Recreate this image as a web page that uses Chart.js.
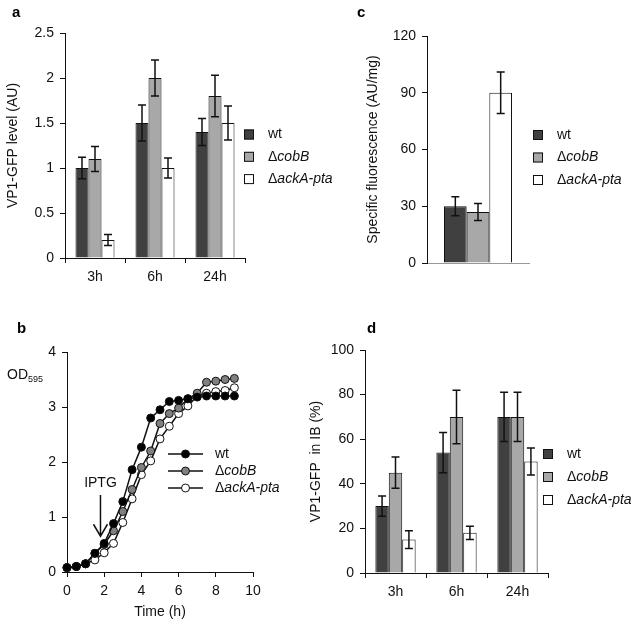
<!DOCTYPE html>
<html>
<head>
<meta charset="utf-8">
<script src="https://cdn.jsdelivr.net/npm/chart.js@4.4.1/dist/chart.umd.min.js"></script>
<style>
body { margin: 0; background: #fff; }
#wrap { position: relative; width: 638px; height: 623px; }
canvas { position: absolute; left: 0; top: 0; pointer-events: none; }
</style>
</head>
<body>
<div id="wrap">
<canvas id="chartA" width="638" height="623"></canvas>
<canvas id="chartB" width="638" height="623"></canvas>
<canvas id="chartC" width="638" height="623"></canvas>
<canvas id="chartD" width="638" height="623"></canvas>
</div>
<script>
// strains + colours
const strains = ['wt', 'ΔcobB', 'ΔackA-pta'];
const strainColors = ['#404040', '#a8a8a8', '#ffffff'];
const lineColors = ['#000000', '#808080', '#ffffff'];
const timeLabels = ['3h', '6h', '24h'];

// a - VP1-GFP level (AU)
const gfpWt = [1.0, 1.5, 1.4];
const gfpWtErr = [0.12, 0.2, 0.15];
const gfpCobB = [1.1, 2.0, 1.8];
const gfpCobBErr = [0.14, 0.2, 0.23];
const gfpAck = [0.2, 1.0, 1.5];
const gfpAckErr = [0.06, 0.11, 0.19];

// b - growth curves OD595
const hours = [0, 0.5, 1, 1.5, 2, 2.5, 3, 3.5, 4, 4.5, 5, 5.5, 6, 6.5, 7, 7.5, 8, 8.5, 9];
const odWt = [0.08, 0.1, 0.15, 0.34, 0.52, 0.88, 1.28, 1.86, 2.27, 2.8, 2.95, 3.1, 3.12, 3.15, 3.18, 3.2, 3.2, 3.2, 3.2];
const odCobB = [0.08, 0.1, 0.15, 0.34, 0.5, 0.75, 1.1, 1.5, 1.9, 2.2, 2.7, 2.88, 2.98, 3.15, 3.25, 3.45, 3.47, 3.5, 3.52];
const odAck = [0.08, 0.1, 0.15, 0.22, 0.35, 0.52, 0.9, 1.33, 1.77, 2.02, 2.42, 2.65, 2.88, 3.02, 3.2, 3.25, 3.28, 3.3, 3.35];
const iptgTime = 1.8;

// c - specific fluorescence (AU/mg)
const sfValues = [30, 27, 90];
const sfErr = [5, 4.5, 11];

// d - VP1-GFP in IB (%)
const ibWt = [30, 54, 70];
const ibWtErr = [4.5, 9, 11];
const ibCobB = [45, 70, 70];
const ibCobBErr = [7, 12, 11];
const ibAck = [15, 18, 50];
const ibAckErr = [4, 3, 6];

const FAMILY = "'Liberation Sans', Arial, sans-serif";
const font14 = { family: FAMILY, size: 14 };
const INK = '#111';
const plainNum = v => String(+v.toFixed(2));

const errorBars = {
    id: 'errorBars',
    afterDatasetsDraw(chart) {
        const ctx = chart.ctx;
        const y = chart.scales.y;
        chart.data.datasets.forEach((ds, i) => {
            if (!ds.errors) return;
            chart.getDatasetMeta(i).data.forEach((bar, j) => {
                const v = ds.data[j], e = ds.errors[j];
                const top = y.getPixelForValue(v + e);
                const bot = y.getPixelForValue(v - e);
                ctx.save();
                ctx.strokeStyle = INK;
                ctx.lineWidth = 1.5;
                ctx.beginPath();
                ctx.moveTo(bar.x, top); ctx.lineTo(bar.x, bot);
                ctx.moveTo(bar.x - 4, top); ctx.lineTo(bar.x + 4, top);
                ctx.moveTo(bar.x - 4, bot); ctx.lineTo(bar.x + 4, bot);
                ctx.stroke();
                ctx.restore();
            });
        });
    }
};

function drawName(ctx, text, x, y) {
    ctx.fillStyle = INK;
    ctx.textAlign = 'left';
    ctx.textBaseline = 'middle';
    if (text[0] === 'Δ') {
        ctx.font = '14px ' + FAMILY;
        ctx.fillText('Δ', x, y);
        x += ctx.measureText('Δ').width;
        ctx.font = 'italic 14px ' + FAMILY;
        ctx.fillText(text.slice(1), x, y);
    } else {
        ctx.font = '14px ' + FAMILY;
        ctx.fillText(text, x, y);
    }
}

// panel letter + legend (+ extra drawing)
function decor(letter, lx, ly, leg, extra) {
    return {
        id: 'decor',
        afterDraw(chart) {
            const ctx = chart.ctx;
            ctx.save();
            ctx.fillStyle = '#000';
            ctx.font = 'bold 15px ' + FAMILY;
            ctx.textBaseline = 'alphabetic';
            ctx.fillText(letter, lx, ly);
            strains.forEach((name, i) => {
                const yy = leg.y + i * leg.gap;
                if (leg.kind === 'box') {
                    ctx.fillStyle = strainColors[i];
                    ctx.fillRect(leg.x, yy - 5, 10, 10);
                    ctx.strokeStyle = INK;
                    ctx.lineWidth = 1;
                    ctx.strokeRect(leg.x + 0.5, yy - 4.5, 9, 9);
                    drawName(ctx, name, leg.x + 24, yy);
                } else {
                    ctx.strokeStyle = INK;
                    ctx.lineWidth = 1.5;
                    ctx.beginPath();
                    ctx.moveTo(leg.x, yy); ctx.lineTo(leg.x + 35, yy);
                    ctx.stroke();
                    ctx.beginPath();
                    ctx.arc(leg.x + 17.5, yy, 4, 0, Math.PI * 2);
                    ctx.fillStyle = lineColors[i];
                    ctx.fill();
                    ctx.lineWidth = 1;
                    ctx.stroke();
                    drawName(ctx, name, leg.x + 47, yy);
                }
            });
            if (extra) extra(chart, ctx);
            ctx.restore();
        }
    };
}

function barConfig(box, labels, series, errs, yAxis, plugin) {
    return {
        type: 'bar',
        data: {
            labels: labels,
            datasets: series.map((vals, i) => ({
                label: strains[i],
                data: vals,
                errors: errs[i],
                backgroundColor: strainColors[i],
                borderColor: INK,
                borderWidth: 1,
                categoryPercentage: box.cat,
                barPercentage: 1
            }))
        },
        options: {
            responsive: false,
            animation: false,
            devicePixelRatio: 1,
            layout: { padding: { left: box.l - box.yw, top: box.t, right: 638 - box.r, bottom: 623 - box.b - box.xh } },
            plugins: { legend: { display: false }, tooltip: { enabled: false } },
            scales: {
                x: {
                    afterFit: s => { s.height = box.xh; },
                    grid: { display: box.xticks, drawOnChartArea: false, tickLength: 5, color: INK, offset: true },
                    border: { color: box.xborder, width: 1 },
                    ticks: { display: box.xticks, color: INK, font: font14, padding: 6 }
                },
                y: {
                    min: 0,
                    max: yAxis.max,
                    afterFit: s => { s.width = box.yw; },
                    grid: { drawOnChartArea: false, tickLength: 5, color: INK },
                    border: { color: INK, width: 1 },
                    ticks: { stepSize: yAxis.step, color: INK, font: font14, padding: 6, callback: plainNum },
                    title: { display: true, text: yAxis.title, color: INK, font: font14, padding: { top: yAxis.tpad, bottom: 0 } }
                }
            }
        },
        plugins: [errorBars, plugin]
    };
}

// a
new Chart(document.getElementById('chartA'), barConfig(
    { l: 65, t: 33, r: 245, b: 258, yw: 60, xh: 45, cat: 0.65, xticks: true, xborder: INK },
    timeLabels,
    [gfpWt, gfpCobB, gfpAck],
    [gfpWtErr, gfpCobBErr, gfpAckErr],
    { max: 2.5, step: 0.5, title: 'VP1-GFP level (AU)', tpad: 0 },
    decor('a', 12, 17, { kind: 'box', x: 244, y: 134.5, gap: 22.3 })
));

// c
new Chart(document.getElementById('chartC'), barConfig(
    { l: 427, t: 36, r: 529, b: 263, yw: 70, xh: 45, cat: 0.667, xticks: false, xborder: '#999' },
    [''],
    sfValues.map(v => [v]),
    sfErr.map(e => [e]),
    { max: 120, step: 30, title: 'Specific fluorescence (AU/mg)', tpad: 7.6 },
    decor('c', 357, 17, { kind: 'box', x: 533, y: 135, gap: 22.5 })
));

// d
new Chart(document.getElementById('chartD'), barConfig(
    { l: 365, t: 350, r: 548, b: 573, yw: 60, xh: 45, cat: 0.66, xticks: true, xborder: INK },
    timeLabels,
    [ibWt, ibCobB, ibAck],
    [ibWtErr, ibCobBErr, ibAckErr],
    { max: 100, step: 20, title: 'VP1-GFP  in IB (%)', tpad: 2.6 },
    decor('d', 367, 333, { kind: 'box', x: 543, y: 454, gap: 23 })
));

// b
const bBox = { l: 67, t: 352, r: 253, b: 572, yw: 60, xh: 50 };
const odSeries = [odWt, odCobB, odAck];
new Chart(document.getElementById('chartB'), {
    type: 'line',
    data: {
        datasets: odSeries.map((vals, i) => ({
            label: strains[i],
            data: hours.map((h, k) => ({ x: h, y: vals[k] })),
            borderColor: INK,
            borderWidth: 1.5,
            pointRadius: 4,
            pointBorderWidth: 1,
            pointBorderColor: INK,
            pointBackgroundColor: lineColors[i],
            clip: false,
            tension: 0
        }))
    },
    options: {
        responsive: false,
        animation: false,
        devicePixelRatio: 1,
        layout: { padding: { left: bBox.l - bBox.yw, top: bBox.t, right: 638 - bBox.r, bottom: 623 - bBox.b - bBox.xh } },
        plugins: { legend: { display: false }, tooltip: { enabled: false } },
        scales: {
            x: {
                type: 'linear',
                min: 0,
                max: 10,
                afterFit: s => { s.height = bBox.xh; },
                grid: { drawOnChartArea: false, tickLength: 5, color: INK },
                border: { color: INK, width: 1 },
                ticks: { stepSize: 2, color: INK, font: font14, padding: 6 },
                title: { display: true, text: 'Time (h)', color: INK, font: font14, padding: { top: 0, bottom: 1.6 } }
            },
            y: {
                min: 0,
                max: 4,
                afterFit: s => { s.width = bBox.yw; },
                grid: { drawOnChartArea: false, tickLength: 5, color: INK },
                border: { color: INK, width: 1 },
                ticks: { stepSize: 1, color: INK, font: font14, padding: 6 }
            }
        }
    },
    plugins: [decor('b', 17, 333, { kind: 'line', x: 168, y: 454, gap: 17 }, (chart, ctx) => {
        const sx = chart.scales.x, sy = chart.scales.y;
        // OD595 label
        ctx.fillStyle = INK;
        ctx.textAlign = 'left';
        ctx.textBaseline = 'alphabetic';
        ctx.font = '14px ' + FAMILY;
        ctx.fillText('OD', 7, 379);
        const w = ctx.measureText('OD').width;
        ctx.font = '9px ' + FAMILY;
        ctx.fillText('595', 7 + w, 382);
        // IPTG arrow
        const ax = sx.getPixelForValue(iptgTime);
        const tip = sy.getPixelForValue(0.65);
        const tail = sy.getPixelForValue(1.4);
        ctx.font = '14px ' + FAMILY;
        ctx.textAlign = 'center';
        ctx.fillText('IPTG', ax, sy.getPixelForValue(1.545));
        ctx.strokeStyle = INK;
        ctx.lineWidth = 1.5;
        ctx.beginPath();
        ctx.moveTo(ax, tail); ctx.lineTo(ax, tip);
        ctx.moveTo(ax - 7, tip - 12); ctx.lineTo(ax, tip); ctx.lineTo(ax + 7, tip - 12);
        ctx.stroke();
    })]
});
</script>
</body>
</html>
